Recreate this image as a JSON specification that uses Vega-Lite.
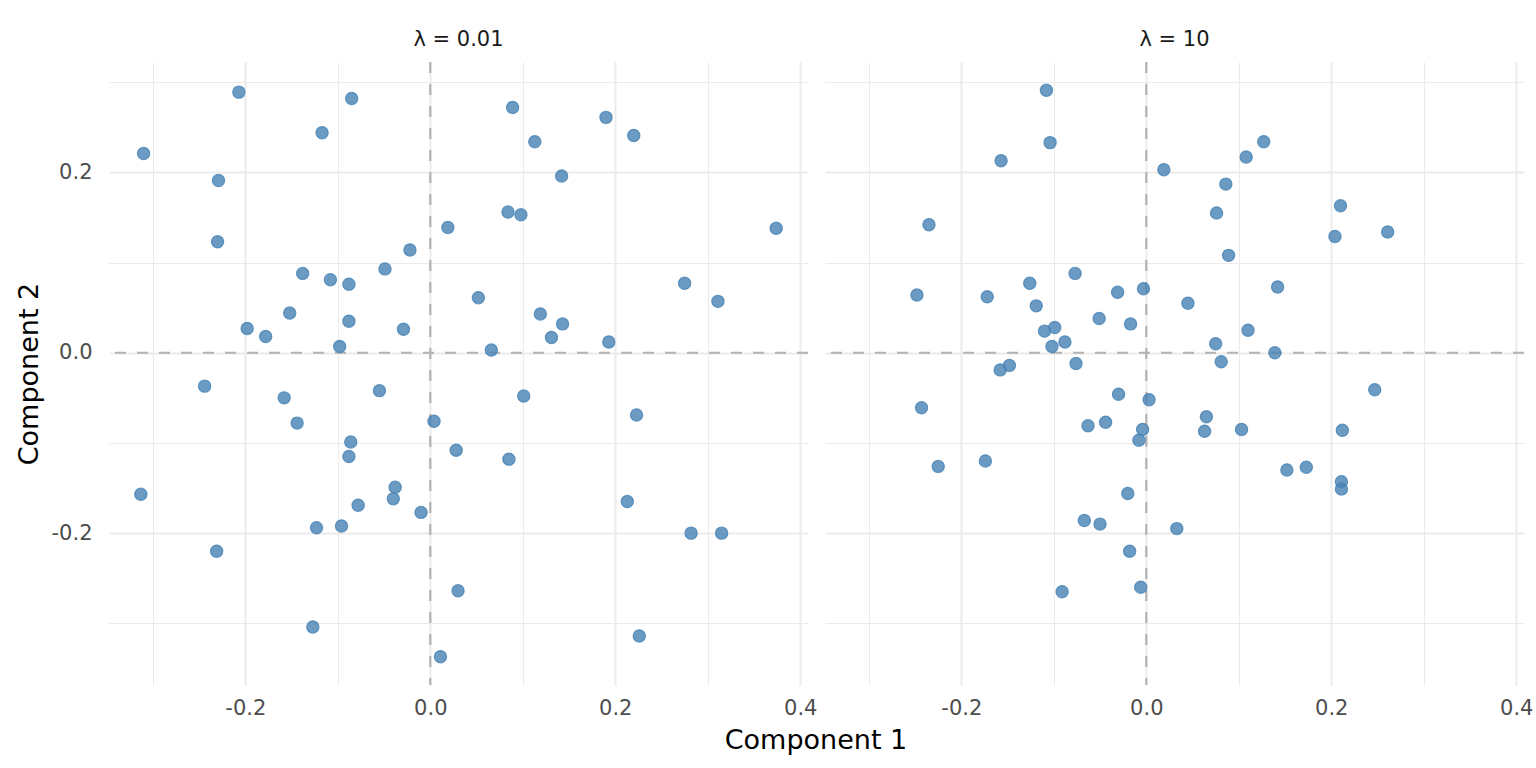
{
  "$schema": "https://vega.github.io/schema/vega-lite/v6.json",
  "background": "white",
  "padding": {"left": 15, "top": 29, "right": 4, "bottom": 8},
  "data": {
    "values": [
      {"lambda": "λ = 0.01", "c1": -0.207, "c2": 0.289},
      {"lambda": "λ = 0.01", "c1": -0.085, "c2": 0.282},
      {"lambda": "λ = 0.01", "c1": -0.117, "c2": 0.244},
      {"lambda": "λ = 0.01", "c1": -0.310, "c2": 0.221},
      {"lambda": "λ = 0.01", "c1": -0.229, "c2": 0.191},
      {"lambda": "λ = 0.01", "c1": -0.230, "c2": 0.123},
      {"lambda": "λ = 0.01", "c1": 0.019, "c2": 0.139},
      {"lambda": "λ = 0.01", "c1": -0.022, "c2": 0.114},
      {"lambda": "λ = 0.01", "c1": -0.049, "c2": 0.093},
      {"lambda": "λ = 0.01", "c1": -0.138, "c2": 0.088},
      {"lambda": "λ = 0.01", "c1": -0.108, "c2": 0.081},
      {"lambda": "λ = 0.01", "c1": -0.088, "c2": 0.076},
      {"lambda": "λ = 0.01", "c1": -0.152, "c2": 0.044},
      {"lambda": "λ = 0.01", "c1": -0.088, "c2": 0.035},
      {"lambda": "λ = 0.01", "c1": -0.029, "c2": 0.026},
      {"lambda": "λ = 0.01", "c1": -0.198, "c2": 0.027},
      {"lambda": "λ = 0.01", "c1": -0.178, "c2": 0.018},
      {"lambda": "λ = 0.01", "c1": -0.098, "c2": 0.007},
      {"lambda": "λ = 0.01", "c1": 0.089, "c2": 0.272},
      {"lambda": "λ = 0.01", "c1": 0.190, "c2": 0.261},
      {"lambda": "λ = 0.01", "c1": 0.220, "c2": 0.241},
      {"lambda": "λ = 0.01", "c1": 0.113, "c2": 0.234},
      {"lambda": "λ = 0.01", "c1": 0.142, "c2": 0.196},
      {"lambda": "λ = 0.01", "c1": 0.084, "c2": 0.156},
      {"lambda": "λ = 0.01", "c1": 0.098, "c2": 0.153},
      {"lambda": "λ = 0.01", "c1": 0.374, "c2": 0.138},
      {"lambda": "λ = 0.01", "c1": 0.275, "c2": 0.077},
      {"lambda": "λ = 0.01", "c1": 0.311, "c2": 0.057},
      {"lambda": "λ = 0.01", "c1": 0.052, "c2": 0.061},
      {"lambda": "λ = 0.01", "c1": 0.119, "c2": 0.043},
      {"lambda": "λ = 0.01", "c1": 0.143, "c2": 0.032},
      {"lambda": "λ = 0.01", "c1": 0.131, "c2": 0.017},
      {"lambda": "λ = 0.01", "c1": 0.193, "c2": 0.012},
      {"lambda": "λ = 0.01", "c1": 0.066, "c2": 0.003},
      {"lambda": "λ = 0.01", "c1": -0.244, "c2": -0.037},
      {"lambda": "λ = 0.01", "c1": -0.158, "c2": -0.050},
      {"lambda": "λ = 0.01", "c1": -0.055, "c2": -0.042},
      {"lambda": "λ = 0.01", "c1": -0.144, "c2": -0.078},
      {"lambda": "λ = 0.01", "c1": 0.004, "c2": -0.076},
      {"lambda": "λ = 0.01", "c1": 0.028, "c2": -0.108},
      {"lambda": "λ = 0.01", "c1": -0.086, "c2": -0.099},
      {"lambda": "λ = 0.01", "c1": -0.088, "c2": -0.115},
      {"lambda": "λ = 0.01", "c1": -0.313, "c2": -0.157},
      {"lambda": "λ = 0.01", "c1": -0.038, "c2": -0.149},
      {"lambda": "λ = 0.01", "c1": -0.040, "c2": -0.162},
      {"lambda": "λ = 0.01", "c1": -0.078, "c2": -0.169},
      {"lambda": "λ = 0.01", "c1": -0.010, "c2": -0.177},
      {"lambda": "λ = 0.01", "c1": -0.123, "c2": -0.194},
      {"lambda": "λ = 0.01", "c1": -0.096, "c2": -0.192},
      {"lambda": "λ = 0.01", "c1": -0.231, "c2": -0.220},
      {"lambda": "λ = 0.01", "c1": 0.030, "c2": -0.264},
      {"lambda": "λ = 0.01", "c1": -0.127, "c2": -0.304},
      {"lambda": "λ = 0.01", "c1": 0.011, "c2": -0.337},
      {"lambda": "λ = 0.01", "c1": 0.101, "c2": -0.048},
      {"lambda": "λ = 0.01", "c1": 0.223, "c2": -0.069},
      {"lambda": "λ = 0.01", "c1": 0.085, "c2": -0.118},
      {"lambda": "λ = 0.01", "c1": 0.213, "c2": -0.165},
      {"lambda": "λ = 0.01", "c1": 0.282, "c2": -0.200},
      {"lambda": "λ = 0.01", "c1": 0.315, "c2": -0.200},
      {"lambda": "λ = 0.01", "c1": 0.226, "c2": -0.314},
      {"lambda": "λ = 10", "c1": -0.108, "c2": 0.291},
      {"lambda": "λ = 10", "c1": -0.104, "c2": 0.233},
      {"lambda": "λ = 10", "c1": -0.157, "c2": 0.213},
      {"lambda": "λ = 10", "c1": 0.019, "c2": 0.203},
      {"lambda": "λ = 10", "c1": -0.235, "c2": 0.142},
      {"lambda": "λ = 10", "c1": -0.077, "c2": 0.088},
      {"lambda": "λ = 10", "c1": -0.126, "c2": 0.077},
      {"lambda": "λ = 10", "c1": -0.003, "c2": 0.071},
      {"lambda": "λ = 10", "c1": -0.031, "c2": 0.067},
      {"lambda": "λ = 10", "c1": -0.248, "c2": 0.064},
      {"lambda": "λ = 10", "c1": -0.172, "c2": 0.062},
      {"lambda": "λ = 10", "c1": -0.119, "c2": 0.052},
      {"lambda": "λ = 10", "c1": -0.051, "c2": 0.038},
      {"lambda": "λ = 10", "c1": -0.017, "c2": 0.032},
      {"lambda": "λ = 10", "c1": -0.099, "c2": 0.028},
      {"lambda": "λ = 10", "c1": -0.110, "c2": 0.024},
      {"lambda": "λ = 10", "c1": -0.088, "c2": 0.012},
      {"lambda": "λ = 10", "c1": -0.102, "c2": 0.007},
      {"lambda": "λ = 10", "c1": 0.127, "c2": 0.234},
      {"lambda": "λ = 10", "c1": 0.108, "c2": 0.217},
      {"lambda": "λ = 10", "c1": 0.086, "c2": 0.187},
      {"lambda": "λ = 10", "c1": 0.076, "c2": 0.155},
      {"lambda": "λ = 10", "c1": 0.210, "c2": 0.163},
      {"lambda": "λ = 10", "c1": 0.204, "c2": 0.129},
      {"lambda": "λ = 10", "c1": 0.261, "c2": 0.134},
      {"lambda": "λ = 10", "c1": 0.089, "c2": 0.108},
      {"lambda": "λ = 10", "c1": 0.142, "c2": 0.073},
      {"lambda": "λ = 10", "c1": 0.045, "c2": 0.055},
      {"lambda": "λ = 10", "c1": 0.110, "c2": 0.025},
      {"lambda": "λ = 10", "c1": 0.075, "c2": 0.010},
      {"lambda": "λ = 10", "c1": 0.139, "c2": 0.000},
      {"lambda": "λ = 10", "c1": -0.148, "c2": -0.014},
      {"lambda": "λ = 10", "c1": -0.158, "c2": -0.019},
      {"lambda": "λ = 10", "c1": -0.076, "c2": -0.012},
      {"lambda": "λ = 10", "c1": -0.243, "c2": -0.061},
      {"lambda": "λ = 10", "c1": -0.030, "c2": -0.046},
      {"lambda": "λ = 10", "c1": 0.003, "c2": -0.052},
      {"lambda": "λ = 10", "c1": -0.063, "c2": -0.081},
      {"lambda": "λ = 10", "c1": -0.044, "c2": -0.077},
      {"lambda": "λ = 10", "c1": -0.004, "c2": -0.085},
      {"lambda": "λ = 10", "c1": -0.008, "c2": -0.097},
      {"lambda": "λ = 10", "c1": -0.225, "c2": -0.126},
      {"lambda": "λ = 10", "c1": -0.174, "c2": -0.120},
      {"lambda": "λ = 10", "c1": -0.020, "c2": -0.156},
      {"lambda": "λ = 10", "c1": -0.067, "c2": -0.186},
      {"lambda": "λ = 10", "c1": -0.050, "c2": -0.190},
      {"lambda": "λ = 10", "c1": 0.033, "c2": -0.195},
      {"lambda": "λ = 10", "c1": -0.018, "c2": -0.220},
      {"lambda": "λ = 10", "c1": -0.091, "c2": -0.265},
      {"lambda": "λ = 10", "c1": -0.006, "c2": -0.260},
      {"lambda": "λ = 10", "c1": 0.081, "c2": -0.010},
      {"lambda": "λ = 10", "c1": 0.247, "c2": -0.041},
      {"lambda": "λ = 10", "c1": 0.065, "c2": -0.071},
      {"lambda": "λ = 10", "c1": 0.063, "c2": -0.087},
      {"lambda": "λ = 10", "c1": 0.103, "c2": -0.085},
      {"lambda": "λ = 10", "c1": 0.212, "c2": -0.086},
      {"lambda": "λ = 10", "c1": 0.152, "c2": -0.130},
      {"lambda": "λ = 10", "c1": 0.173, "c2": -0.127},
      {"lambda": "λ = 10", "c1": 0.211, "c2": -0.143},
      {"lambda": "λ = 10", "c1": 0.211, "c2": -0.151}
    ]
  },
  "facet": {
    "column": {
      "field": "lambda",
      "type": "nominal",
      "sort": ["λ = 0.01", "λ = 10"],
      "title": "Component 1",
      "header": {
        "titleOrient": "bottom",
        "titleFont": "DejaVu Sans",
        "titleFontSize": 27,
        "titleFontWeight": "normal",
        "titleColor": "black",
        "titlePadding": 0,
        "labelOrient": "top",
        "labelFont": "DejaVu Sans",
        "labelFontSize": 21,
        "labelColor": "#1A1A1A",
        "labelPadding": 10
      }
    }
  },
  "spacing": 13,
  "spec": {
    "width": 699,
    "height": 623,
    "layer": [
      {
        "transform": [{"aggregate": [{"op": "count", "as": "n"}], "groupby": ["lambda"]}],
        "mark": {"type": "rule", "color": "#B3B3B3", "strokeWidth": 2.2, "strokeDash": [11, 11]},
        "encoding": {
          "x": {
            "datum": 0,
            "type": "quantitative",
            "scale": {"domain": [-0.3474, 0.4084], "nice": false, "zero": false},
            "axis": {
              "title": null,
              "labelPadding": 10,
              "values": [-0.3, -0.2, -0.1, 0, 0.1, 0.2, 0.3, 0.4],
              "gridWidth": {"condition": {"test": "abs(round(datum.value * 10)) % 2 == 0", "value": 2}, "value": 1},
              "labelExpr": "abs(round(datum.value * 10)) % 2 == 0 ? replace(format(datum.value, '.1f'), '\u2212', '-') : ''"
            }
          }
        }
      },
      {
        "transform": [{"aggregate": [{"op": "count", "as": "n"}], "groupby": ["lambda"]}],
        "mark": {"type": "rule", "color": "#B3B3B3", "strokeWidth": 2.2, "strokeDash": [11, 11]},
        "encoding": {
          "y": {
            "datum": 0,
            "type": "quantitative",
            "scale": {"domain": [-0.3684, 0.3224], "nice": false, "zero": false},
            "axis": {
              "title": "Component 2",
              "labelPadding": 15,
              "values": [-0.3, -0.2, -0.1, 0, 0.1, 0.2, 0.3],
              "gridWidth": {"condition": {"test": "abs(round(datum.value * 10)) % 2 == 0", "value": 2}, "value": 1},
              "labelExpr": "abs(round(datum.value * 10)) % 2 == 0 ? replace(format(datum.value, '.1f'), '\u2212', '-') : ''"
            }
          }
        }
      },
      {
        "mark": {"type": "point", "filled": true, "color": "#4682B4", "fillOpacity": 0.8, "strokeOpacity": 0.8, "stroke": "#4682B4", "strokeWidth": 1.2, "size": 150},
        "encoding": {
          "x": {"field": "c1", "type": "quantitative"},
          "y": {"field": "c2", "type": "quantitative"}
        }
      }
    ]
  },
  "config": {
    "view": {"stroke": null},
    "axis": {
      "domain": false,
      "ticks": false,
      "tickSize": 0,
      "grid": true,
      "gridColor": "#EBEBEB",
      "labelFont": "DejaVu Sans",
      "labelFontSize": 21,
      "labelColor": "#4D4D4D",
      "titleFont": "DejaVu Sans",
      "titleFontSize": 27,
      "titleFontWeight": "normal",
      "titleColor": "black",
      "titlePadding": 8
    }
  }
}
